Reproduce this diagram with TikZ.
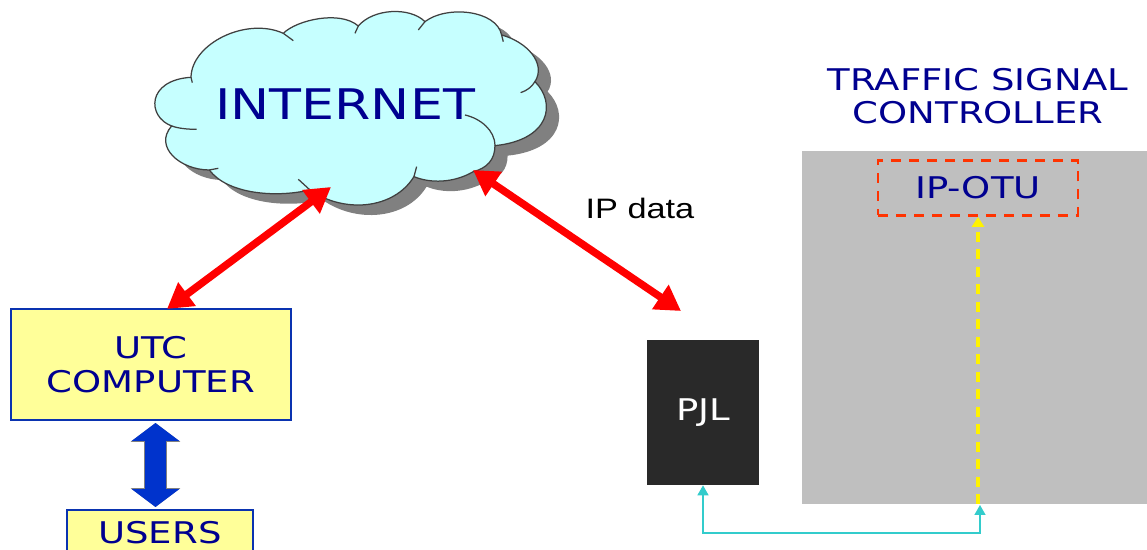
\documentclass[tikz,border=0pt]{standalone}
\usepackage{fontspec}
\setmainfont[FakeStretch=1.24]{DejaVu Sans}
\newfontfamily\labelfont[FakeStretch=1.22]{Liberation Sans}
\usetikzlibrary{arrows.meta}
\definecolor{cloudfill}{HTML}{C6FFFF}
\definecolor{cloudshadow}{HTML}{808080}
\definecolor{labelblue}{HTML}{000090}
\definecolor{boxfill}{HTML}{FFFF99}
\definecolor{boxline}{HTML}{0A33B0}
\definecolor{shaftblue}{HTML}{0033CC}
\definecolor{cabinet}{HTML}{BFBFBF}
\definecolor{pjlfill}{HTML}{292929}
\definecolor{tealline}{HTML}{33CCCC}
\definecolor{dashred}{HTML}{FF3300}
\newcommand{\cloudoutline}{(183,232) .. controls (185,130) and (350,50) .. (460,100)
    .. controls (500,60) and (630,30) .. (685,78)
    .. controls (730,25) and (840,20) .. (885,65)
    .. controls (950,15) and (1100,30) .. (1115,105)
    .. controls (1190,125) and (1250,190) .. (1215,245)
    .. controls (1280,310) and (1260,420) .. (1095,437)
    .. controls (1095,480) and (1070,505) .. (1030,515)
    .. controls (970,550) and (900,550) .. (852,530)
    .. controls (790,630) and (640,640) .. (540,570)
    .. controls (430,595) and (290,580) .. (238,510)
    .. controls (150,510) and (70,440) .. (125,378)
    .. controls (50,350) and (50,240) .. (183,232) -- cycle}
\newcommand{\cloudcreases}{(183,232) -- (187,248)
    (460,100) -- (490,122)
    (685,78) -- (675,100)
    (885,65) -- (865,90)
    (1115,105) -- (1120,125)
    (1215,245) .. controls (1205,262) and (1190,272) .. (1172,278)
    (1095,437) .. controls (1095,390) and (1050,355) .. (1005,345)
    (852,530) -- (860,500)
    (540,570) -- (505,538)
    (238,510) -- (265,505)
    (125,378) .. controls (145,385) and (170,388) .. (200,388)}
\tikzset{
    caption/.style={text=labelblue, inner sep=0pt, align=center, font=\fontsize{17}{19}\selectfont},
    yellowbox/.style={caption, draw=boxline, fill=boxfill, line width=0.03cm},
    redlink/.style={draw=red, line width=0.15cm, {Triangle[length=0.5cm,width=0.56cm]}-{Triangle[length=0.5cm,width=0.56cm]}},
    userlink/.style={draw=shaftblue, line width=0.44cm, {Triangle[length=0.36cm,width=0.94cm]}-{Triangle[length=0.36cm,width=0.94cm]}},
    teallink/.style={draw=tealline, line width=0.03cm, {Triangle[length=0.2cm,width=0.22cm]}-{Triangle[length=0.2cm,width=0.22cm]}},
    yellowlink/.style={draw=yellow, line width=0.07cm, dash pattern=on 0.2cm off 0.15cm, -{Triangle[length=0.2cm,width=0.24cm]}}
}
\begin{document}
\begin{tikzpicture}[x={(0.02cm,0cm)}, y={(0cm,-0.02cm)}]
    \clip (0,0) rectangle (1147,550);
    \fill[white] (0,0) rectangle (1147,550);
    \begin{scope}[shift={(130,0)}, scale=0.3333]
        \fill[cloudshadow, shift={(38,30)}] \cloudoutline;
        \draw[fill=cloudfill, draw=black!75, line width=0.025cm] \cloudoutline;
        \draw[draw=black!75, line width=0.025cm] \cloudcreases;
    \end{scope}
    \node[caption, font=\fontsize{24}{28}\selectfont] (internet) at (345,104) {INTERNET};

    \fill[cabinet] (802,151) rectangle (1147,504);
    \node[caption] (tsc) at (978,96) {TRAFFIC SIGNAL\\CONTROLLER};
    \node[caption, draw=dashred, line width=0.055cm, dash pattern=on 0.2cm off 0.16cm, minimum width=4cm, minimum height=1.1cm] (otu) at (978,188) {IP-OTU};
    \node[fill=pjlfill, text=white, inner sep=0pt, minimum width=2.24cm, minimum height=2.9cm, font=\fontsize{17}{19}\selectfont] (pjl) at (703,412.5) {PJL};
    \node[yellowbox, minimum width=5.6cm, minimum height=2.22cm] (utc) at (151,364.5) {UTC\\COMPUTER};
    \node[yellowbox, minimum width=3.72cm, minimum height=0.92cm] (users) at (160,533) {USERS};
    \node[inner sep=0pt, font=\labelfont\fontsize{16}{18}\selectfont] (ipdata) at (640,208) {IP data};

    \coordinate (cloudleft) at (331,187);
    \coordinate (cloudright) at (473,170);
    \coordinate (utctop) at (167,309);
    \coordinate (pjltop) at (681,311);
    \coordinate (utcfoot) at (155.5,423);
    \coordinate (usershead) at (155.5,507);
    \coordinate (cabinetfoot) at (980,505);
    \coordinate (yellowstart) at (978,504);

    \draw[redlink] (utctop) -- (cloudleft);
    \draw[redlink] (cloudright) -- (pjltop);
    \draw[userlink, preaction={draw=gray, line width=0.47cm, {Triangle[length=0.38cm,width=0.98cm]}-{Triangle[length=0.38cm,width=0.98cm]}}] (utcfoot) -- (usershead);
    \draw[yellowlink] (yellowstart) -- (otu.south);
    \draw[teallink] (pjl.south) -- (pjl.south |- 0,533) -| (cabinetfoot);
\end{tikzpicture}
\end{document}
